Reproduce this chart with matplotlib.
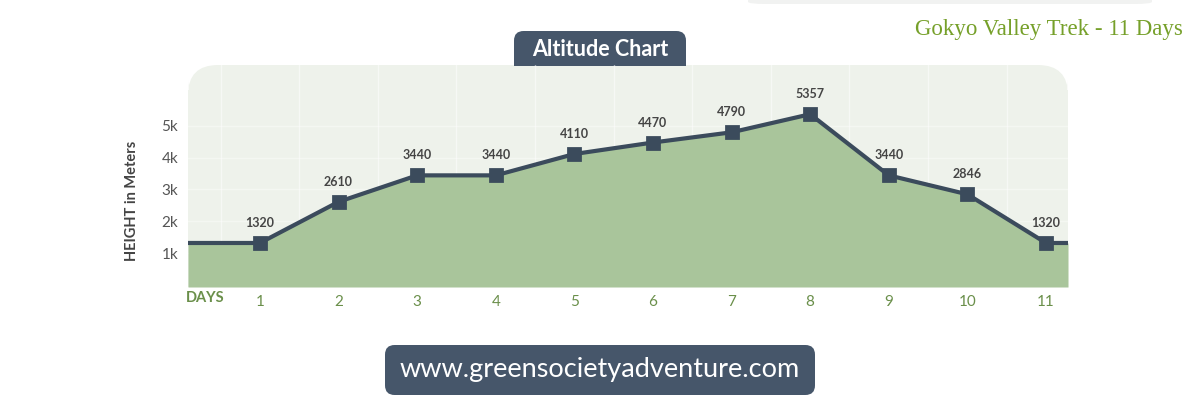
import matplotlib
matplotlib.use("Agg")
import matplotlib.pyplot as plt
from matplotlib.patches import FancyBboxPatch
import numpy as np

days = [1, 2, 3, 4, 5, 6, 7, 8, 9, 10, 11]
altitude = [1320, 2610, 3440, 3440, 4110, 4470, 4790, 5357, 3440, 2846, 1320]
ytick_vals = [1000, 2000, 3000, 4000, 5000]
ytick_labels = ["1k", "2k", "3k", "4k", "5k"]

title = "Altitude Chart"
trek = "Gokyo Valley Trek - 11 Days"
url = "www.greensocietyadventure.com"

slate = "#46566a"
line_col = "#3b4b5c"
fill_col = "#a9c59b"
bg_col = "#eef2eb"
green_txt = "#6a8f4a"

W, H = 1200, 420
fig = plt.figure(figsize=(12, 4.2), dpi=100)


def px_box(x0, y0, x1, y1, **kw):
    # pixel coords (top-left origin) -> figure fraction patch
    b = FancyBboxPatch((x0 / W, 1 - y1 / H), (x1 - x0) / W, (y1 - y0) / H,
                       transform=fig.transFigure, figure=fig, zorder=-1, **kw)
    fig.patches.append(b)
    return b


# faint box at top right
px_box(748, -30, 1152, 4, boxstyle="round,pad=0,rounding_size=0.015",
       fc="#f1f2f1", ec="none", mutation_aspect=H / W)

# chart background with rounded top corners
px_box(188, 65, 1068, 110, boxstyle="round,pad=0,rounding_size=0.025",
       fc=bg_col, ec="none", mutation_aspect=W / H)
px_box(188, 90, 1068, 287, boxstyle="square,pad=0", fc=bg_col, ec="none")

# title tab
px_box(514, 31, 686, 80, boxstyle="round,pad=0,rounding_size=0.008",
       fc=slate, ec="none", mutation_aspect=W / H)
px_box(514, 60, 686, 66, boxstyle="square,pad=0", fc=slate, ec="none")
px_box(505, 66, 695, 80, boxstyle="square,pad=0", fc=bg_col, ec="none")
fig.text(600 / W, 1 - 49 / H, title, color="white", fontsize=15.5,
         fontweight="bold", family="Lato", ha="center", va="center")

ax = fig.add_axes([188 / W, 1 - 287 / H, 880 / W, 222 / H])
ax.set_facecolor("none")
xmin, xmax = 0.085, 11.28
ymin, ymax = -60, 6900
ax.set_xlim(xmin, xmax)
ax.set_ylim(ymin, ymax)

# faint grid
for d in np.arange(0.5, 12, 1.0):
    ax.axvline(d, color="white", lw=1, alpha=0.5, zorder=1)
for v in ytick_vals:
    ax.axhline(v, color="white", lw=1, alpha=0.4, zorder=1)

# line runs flat out to both edges of the panel
xs = [xmin] + days + [xmax]
ys = [altitude[0]] + altitude + [altitude[-1]]
ax.fill_between(xs, ys, ymin, color=fill_col, zorder=2, lw=0)
ax.plot(xs, ys, color=line_col, lw=3, zorder=3, solid_joinstyle="round")
ax.plot(days, altitude, ls="none", marker="s", ms=8, mfc=line_col,
        mec=line_col, mew=2, zorder=4)
for d, a in zip(days, altitude):
    ax.annotate(str(a), (d, a), xytext=(0, 10), textcoords="offset points",
                ha="center", va="bottom", fontsize=9, fontweight="bold",
                color="#454545", family="Lato")

for s in ax.spines.values():
    s.set_visible(False)
ax.set_xticks(days)
ax.set_xticklabels([str(d) for d in days], color=green_txt, fontsize=11,
                   family="Lato")
ax.set_yticks(ytick_vals)
ax.set_yticklabels(ytick_labels, color="#555555", fontsize=11, family="Lato")
ax.tick_params(length=0, pad=6)
ax.tick_params(axis="y", pad=7)
ax.set_ylabel("HEIGHT in Meters", fontsize=10.5, fontweight="bold",
              color="#444444", family="Lato")
ax.yaxis.set_label_coords(-0.056, 0.39)
fig.text(205 / W, 1 - 298 / H, "DAYS", color=green_txt, fontsize=10.5,
         fontweight="bold", family="Lato", ha="center", va="center")

# top-right trek name
fig.text(1183 / W, 1 - 30 / H, trek, color="#76a02a", fontsize=16.5,
         family="Liberation Serif", ha="right", va="center")

# url button
px_box(385, 345, 815, 395, boxstyle="round,pad=0,rounding_size=0.008",
       fc=slate, ec="none", mutation_aspect=W / H)
fig.text(600 / W, 1 - 370 / H, url, color="white", fontsize=19.5,
         family="Lato", ha="center", va="center")

fig.savefig("out.png", dpi=100, facecolor="white")
